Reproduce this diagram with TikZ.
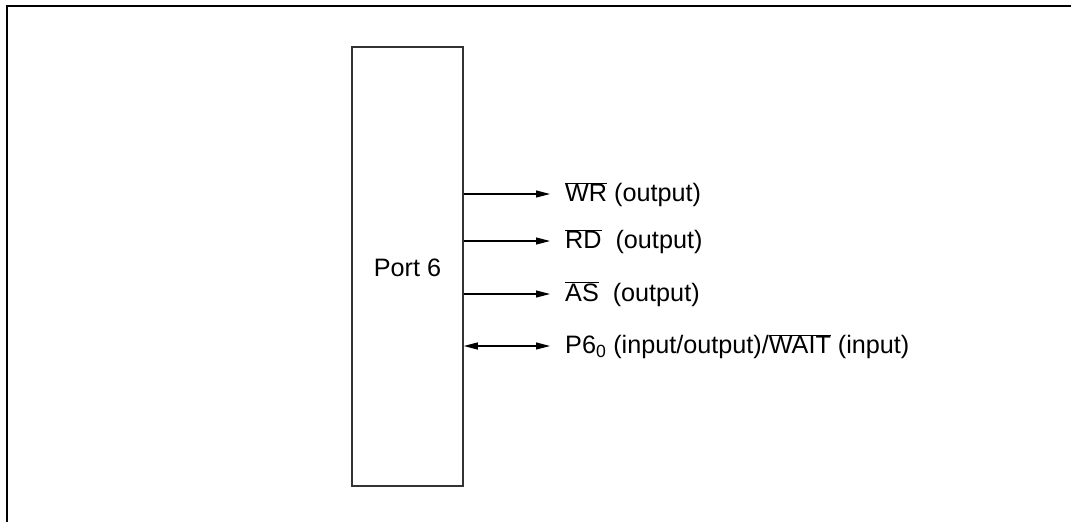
\documentclass[tikz,border=0pt]{standalone}
\usepackage{fontspec}
\setmainfont{Liberation Sans}
\usetikzlibrary{arrows.meta}
\newcommand{\ovl}[1]{$\overline{\mbox{#1}}$}
\begin{document}
\begin{tikzpicture}[x=1pt,y=-1pt,
  frame/.style={line width=2pt,black},
  portbox/.style={draw=black!80,line width=1.6pt,minimum width=111pt,minimum height=439pt,inner sep=0pt},
  sig/.style={line width=1.1pt,-{Triangle[length=14pt,width=7pt]}},
  bisig/.style={line width=1.1pt,{Triangle[length=14pt,width=7pt]}-{Triangle[length=14pt,width=7pt]}},
  lbl/.style={anchor=west,inner sep=0pt,text height=18pt,text depth=5pt},
  every node/.style={font=\fontsize{25.2pt}{30pt}\selectfont}]
\useasboundingbox (0,0) rectangle (1071,522);
\draw[frame] (7,522) -- (7,6) -- (1071,6);
\node[portbox] (port) at (407.5,266.5) {};
\node (pname) at (407.5,268) {Port 6};
\node[lbl] (l1) at (565,195) {\ovl{WR} (output)};
\node[lbl] (l2) at (565,242) {\ovl{RD}\ \ (output)};
\node[lbl] (l3) at (565,295) {\ovl{AS}\ \ (output)};
\node[lbl] (l4) at (565,347) {P6\textsubscript{0} (input/output)/\ovl{WAIT} (input)};
\coordinate (a1) at (550,194);
\coordinate (a2) at (550,241);
\coordinate (a3) at (550,294);
\coordinate (a4) at (550,346);
\draw[sig] (port.east |- a1) -- (a1);
\draw[sig] (port.east |- a2) -- (a2);
\draw[sig] (port.east |- a3) -- (a3);
\draw[bisig] (port.east |- a4) -- (a4);
\end{tikzpicture}
\end{document}
